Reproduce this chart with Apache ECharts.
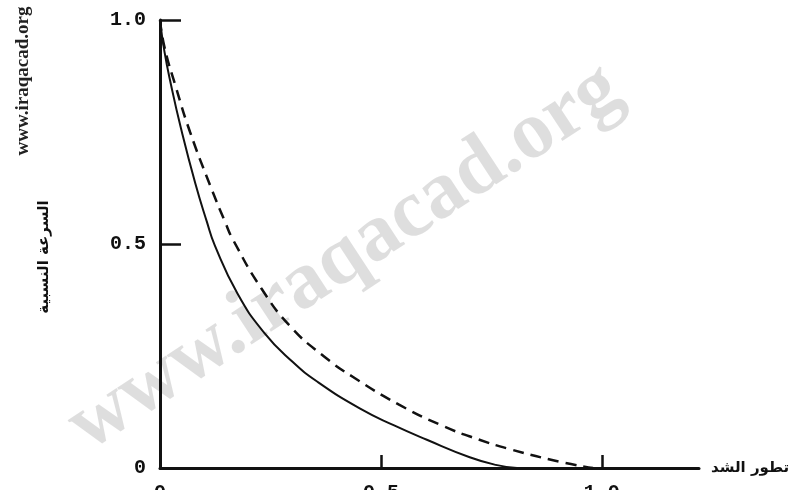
<!DOCTYPE html>
<html>
<head>
<meta charset="utf-8">
<script src="https://cdn.jsdelivr.net/npm/echarts@6/dist/echarts.min.js"></script>
<style>html,body{margin:0;padding:0;background:#fff}#c{width:802px;height:490px}</style>
</head>
<body>
<div id="c"></div>
<script>
// Data
const xTickValues = [0.5, 1.0];
const xLabelValues = [0, 0.5, 1.0];
const yTickValues = [0.5, 1.0];
const yLabelValues = [0, 0.5, 1.0];
const xName = 'تطور الشد';
const yName = 'السرعة النسبية';
const watermark = 'www.iraqacad.org';

const solidX = [0, 0.01, 0.025, 0.047, 0.08, 0.106, 0.124, 0.175, 0.235, 0.3, 0.357, 0.452, 0.53, 0.604, 0.701, 0.76, 0.808];
const solidY = [1.0, 0.93, 0.855, 0.76, 0.635, 0.55, 0.497, 0.39, 0.303, 0.237, 0.192, 0.133, 0.095, 0.063, 0.024, 0.007, 0.0];
const dashX = [0, 0.01, 0.036, 0.068, 0.115, 0.147, 0.165, 0.23, 0.296, 0.37, 0.437, 0.54, 0.64, 0.72, 0.792, 0.905, 0.98];
const dashY = [1.0, 0.94, 0.85, 0.75, 0.627, 0.55, 0.51, 0.4, 0.315, 0.25, 0.203, 0.142, 0.094, 0.064, 0.042, 0.014, 0.0];

const zip = (xs, ys) => xs.map((x, i) => [x, ys[i]]);

const chart = echarts.init(document.getElementById('c'), null, {renderer: 'canvas'});
const labelFont = {color: '#111', fontFamily: 'Liberation Mono', fontWeight: 'bold', fontSize: 20};
const fmt = v => (v === 0 ? '0' : v.toFixed(1));

chart.setOption({
  backgroundColor: '#fff',
  animation: false,
  graphic: [
    {
      type: 'text', z: -1, x: 345, y: 258, rotation: 0.58,
      style: {text: watermark, fontFamily: 'Liberation Serif', fontWeight: 'bold', fontSize: 82,
              fill: 'rgba(0,0,0,0.13)', align: 'center', verticalAlign: 'middle'}
    },
    {
      type: 'text', x: 23, y: 81, rotation: Math.PI / 2,
      style: {text: watermark, fontFamily: 'Liberation Serif', fontWeight: 'bold', fontSize: 19,
              fill: '#222', align: 'center', verticalAlign: 'middle'}
    }
  ],
  grid: {left: 160, right: 103, top: 20, bottom: 22, outerBoundsMode: 'none'},
  xAxis: {
    type: 'value', min: 0, max: 1.22,
    name: xName, nameLocation: 'end', nameGap: 12,
    nameTextStyle: {fontFamily: 'DejaVu Sans', fontSize: 15, fontWeight: 'bold', color: '#111', verticalAlign: 'middle'},
    axisLine: {show: true, lineStyle: {color: '#111', width: 3}},
    axisTick: {show: true, inside: true, length: 13, customValues: xTickValues, lineStyle: {color: '#111', width: 2.5}},
    axisLabel: Object.assign({customValues: xLabelValues, margin: 15, formatter: fmt}, labelFont),
    splitLine: {show: false}
  },
  yAxis: {
    type: 'value', min: 0, max: 1.0,
    name: yName, nameLocation: 'middle', nameGap: 108,
    nameTextStyle: {fontFamily: 'DejaVu Sans', fontSize: 15, fontWeight: 'bold', color: '#111', padding: [0, 0, 0, -26]},
    axisLine: {show: true, lineStyle: {color: '#111', width: 3}},
    axisTick: {show: true, inside: true, length: 21, customValues: yTickValues, lineStyle: {color: '#111', width: 2.5}},
    axisLabel: Object.assign({customValues: yLabelValues, margin: 14, formatter: fmt}, labelFont),
    splitLine: {show: false}
  },
  series: [
    {
      type: 'line', data: zip(solidX, solidY), smooth: 0.5, symbol: 'none',
      lineStyle: {color: '#111', width: 2}
    },
    {
      type: 'line', data: zip(dashX, dashY), smooth: 0.5, symbol: 'none',
      lineStyle: {color: '#111', width: 2.5, type: [11, 7]}
    }
  ]
});
</script>
</body>
</html>
